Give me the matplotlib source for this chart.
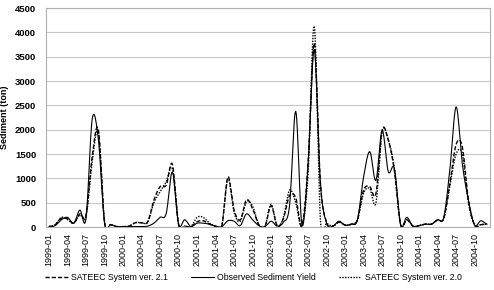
import numpy as np
import matplotlib
matplotlib.use('Agg')
import matplotlib.pyplot as plt

plt.rcParams['font.family'] = ['Liberation Sans', 'DejaVu Sans']

# monthly values 1999-01 .. 2004-12
years = [1999, 2000, 2001, 2002, 2003, 2004]
observed = [10, 30, 150, 200, 80, 350, 180, 2220, 1800, 100, 50, 10,
            10, 10, 10, 10, 20, 80, 200, 280, 1130, 60, 150, 10,
            80, 80, 60, 20, 10, 130, 120, 30, 270, 150, 30, 10,
            120, 20, 100, 450, 2380, 50, 1300, 3650, 900, 80, 20, 120,
            40, 60, 150, 1030, 1550, 960, 1990, 1140, 1200, 50, 200, 20,
            30, 60, 60, 150, 200, 1200, 2470, 1300, 550, 40, 130, 60]
sateec21 = [10, 50, 180, 170, 80, 270, 250, 1450, 2000, 100, 50, 10,
            10, 20, 90, 90, 110, 550, 830, 860, 1290, 60, 20, 10,
            110, 130, 60, 20, 10, 1030, 350, 150, 560, 380, 50, 10,
            440, 20, 180, 650, 600, 30, 1300, 3780, 900, 100, 20, 100,
            40, 60, 150, 760, 830, 690, 1990, 1790, 1150, 50, 150, 20,
            30, 60, 60, 150, 180, 900, 1700, 1650, 550, 40, 50, 60]
sateec20 = [10, 50, 200, 150, 80, 250, 220, 1350, 1950, 100, 50, 10,
            10, 20, 90, 90, 100, 500, 720, 930, 1200, 60, 20, 10,
            200, 200, 80, 20, 10, 990, 300, 120, 520, 430, 50, 10,
            470, 20, 200, 760, 500, 30, 1100, 4130, 150, 80, 20, 100,
            40, 60, 150, 700, 790, 500, 1950, 1800, 1200, 50, 150, 20,
            30, 60, 60, 150, 180, 870, 1500, 1500, 500, 40, 50, 60]

months = ['%d-%02d' % (y, m) for y in years for m in range(1, 13)]


def smooth(vals, n=12):
    # catmull-rom curve through the points, like excel's smoothed line
    p = np.array(vals, dtype=float)
    p = np.concatenate([[p[0]], p, [p[-1]]])
    xs, ys = [], []
    t = np.linspace(0, 1, n, endpoint=False)
    for i in range(1, len(p) - 2):
        p0, p1, p2, p3 = p[i-1], p[i], p[i+1], p[i+2]
        y = 0.5*((2*p1) + (-p0 + p2)*t + (2*p0 - 5*p1 + 4*p2 - p3)*t**2
                 + (-p0 + 3*p1 - 3*p2 + p3)*t**3)
        xs.append(i - 1 + t)
        ys.append(y)
    xs.append([len(vals) - 1])
    ys.append([vals[-1]])
    return np.concatenate(xs), np.concatenate(ys)


fig = plt.figure(figsize=(4.94, 2.9), dpi=100)
ax = fig.add_axes([0.093, 0.217, 0.899, 0.755])

x, y = smooth(sateec21)
ax.plot(x, y, color='black', lw=1.0, ls=(0, (3, 1.5)), label='SATEEC System ver. 2.1')
x, y = smooth(observed)
ax.plot(x, y, color='black', lw=0.8, ls='-', label='Observed Sediment Yield')
x, y = smooth(sateec20)
ax.plot(x, y, color='black', lw=1.0, ls=(0, (1, 1)), label='SATEEC System ver. 2.0')

ax.set_xlim(-0.5, len(months) - 0.5)
ax.set_ylim(0, 4500)
ax.set_yticks(np.arange(0, 4501, 500))
ax.set_xticks(range(0, len(months), 3))
ax.set_xticklabels(months[::3], rotation=90, fontsize=6.5)
for lab in ax.get_yticklabels():
    lab.set_fontsize(6.8)
    lab.set_fontweight('bold')
ax.tick_params(axis='x', length=0, pad=4)
ax.tick_params(axis='y', length=0, pad=7)
ax.grid(axis='y', color='#c8c8c8', lw=0.8)
ax.set_axisbelow(True)
for s in ax.spines.values():
    s.set_color('#b0b0b0')
    s.set_linewidth(0.8)
ax.set_ylabel('Sediment (ton)', fontsize=6.5, fontweight='bold')
ax.yaxis.set_label_coords(-0.083, 0.5)

fig.legend(loc='lower center', bbox_to_anchor=(0.513, 0.0), ncol=3, frameon=False,
           fontsize=6.3, handlelength=2.6, columnspacing=2.6, handletextpad=0.4)

fig.savefig('out.png', dpi=100)
